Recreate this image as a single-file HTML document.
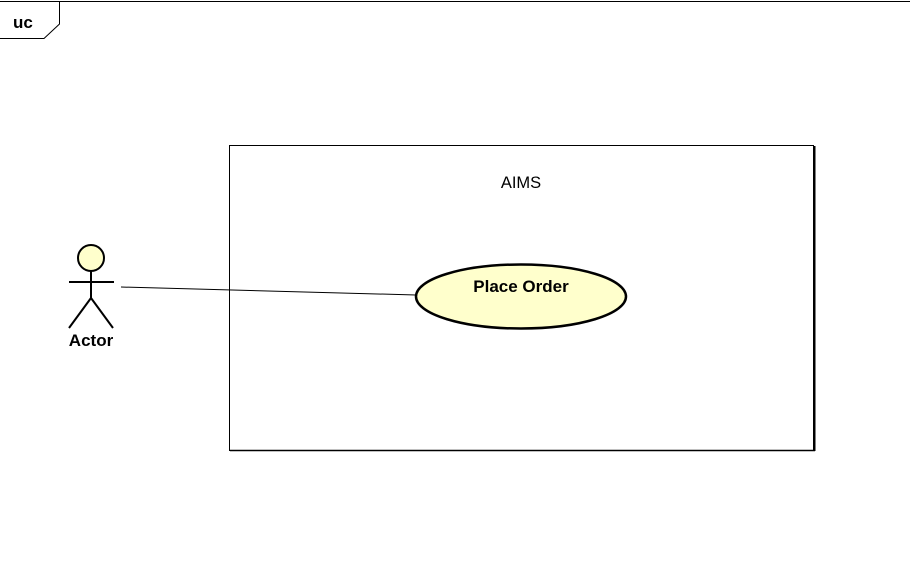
<!DOCTYPE html>
<html><head><style>body{margin:0;background:#fff}svg{display:block}</style></head>
<body>
<svg width="910" height="563" xmlns="http://www.w3.org/2000/svg">
<rect width="910" height="563" fill="#fff"/>
<line x1="0" y1="1.5" x2="910" y2="1.5" stroke="#000" stroke-width="1"/>
<polyline points="59.5,1 59.5,24 44,38.5 0,38.5" fill="none" stroke="#000" stroke-width="1"/>
<text x="13" y="28" font-family="Liberation Sans, sans-serif" font-weight="bold" font-size="17">uc</text>
<rect x="229.5" y="145.5" width="584" height="305" fill="none" stroke="#000" stroke-width="1"/>
<line x1="814.5" y1="146" x2="814.5" y2="451" stroke="#000" stroke-width="2"/>
<line x1="230" y1="450.5" x2="815" y2="450.5" stroke="#000" stroke-width="1.5"/>
<text x="521" y="188" text-anchor="middle" font-family="Liberation Sans, sans-serif" font-size="16.5">AIMS</text>
<line x1="121" y1="287" x2="416" y2="295" stroke="#000" stroke-width="1"/>
<ellipse cx="521" cy="296.5" rx="105" ry="32" fill="#ffffcc" stroke="#000" stroke-width="2.5"/>
<text x="521" y="292" text-anchor="middle" font-family="Liberation Sans, sans-serif" font-weight="bold" font-size="17">Place Order</text>
<circle cx="91" cy="258" r="13" fill="#ffffcc" stroke="#000" stroke-width="2"/>
<line x1="69" y1="282" x2="114" y2="282" stroke="#000" stroke-width="2"/>
<line x1="91" y1="271" x2="91" y2="298" stroke="#000" stroke-width="2"/>
<polyline points="69,328 91,298 113,328" fill="none" stroke="#000" stroke-width="2"/>
<text x="91" y="346" text-anchor="middle" font-family="Liberation Sans, sans-serif" font-weight="bold" font-size="17">Actor</text>
</svg>
</body></html>
